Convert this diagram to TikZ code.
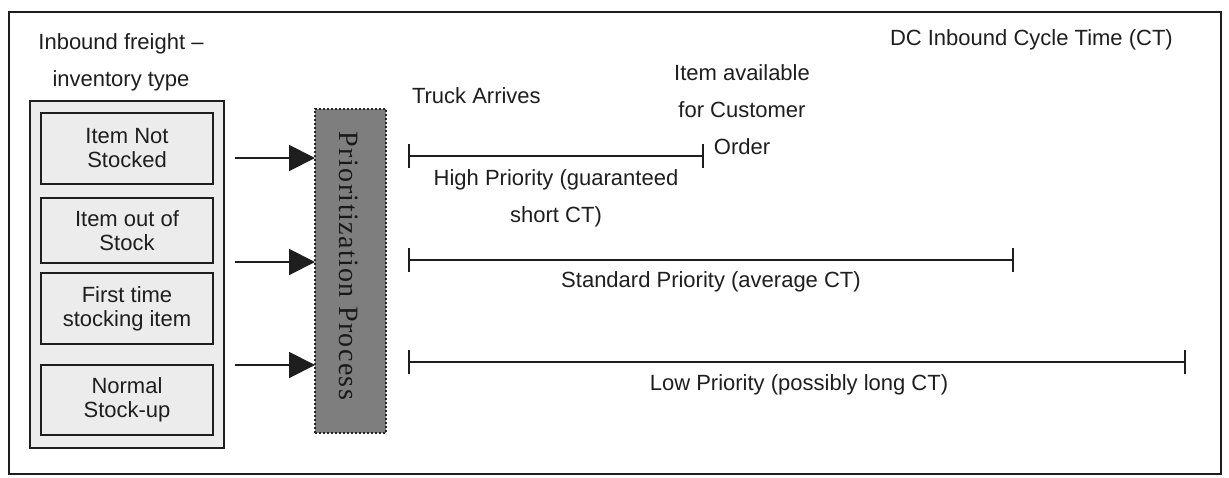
\documentclass[tikz,border=0pt]{standalone}
\usepackage{fontspec}
\setmainfont{Liberation Sans}
\newfontfamily\prfont[LetterSpace=5]{Liberation Serif}
\usetikzlibrary{arrows.meta}
\definecolor{ink}{HTML}{1E1E1E}
\definecolor{pale}{HTML}{ECECEC}
\definecolor{prgray}{HTML}{7E7E7E}
\begin{document}
\begin{tikzpicture}[x=0.5pt,y=-0.5pt,
  every node/.style={inner sep=0pt, outer sep=0pt, text=ink,
    font=\fontsize{11}{12}\selectfont},
  frame/.style={draw=ink, line width=0.8pt, minimum width=606pt, minimum height=231pt},
  holder/.style={draw=ink, fill=pale, line width=0.9pt, minimum width=97pt, minimum height=173.5pt},
  catbox/.style={draw=ink, fill=pale, line width=1pt, minimum width=86pt, align=center},
  prio/.style={draw=black!85, fill=prgray, densely dotted, line width=1pt,
    minimum width=35.5pt, minimum height=162pt},
  feed/.style={draw=ink, line width=1pt, -{Triangle[length=13pt,width=13pt]}},
  span/.style={draw=ink, line width=1pt,
    {Bar[width=12pt,line width=1pt]}-{Bar[width=12pt,line width=1pt]}},
  wide/.style={align=center, font=\fontsize{11}{18.5}\selectfont}
]
\useasboundingbox (0,0) rectangle (1229,477);

% outer frame
\node[frame] (frame) at (615,243) {};

% inventory types
\node[wide] (inb) at (121,62) {Inbound freight –\\inventory type};
\node[holder] (hold) at (127,274.5) {};
\node[catbox, minimum height=35.5pt] (b1) at (127,148.5) {Item Not\\Stocked};
\node[catbox, minimum height=32.5pt] (b2) at (127,230.5) {Item out of\\Stock};
\node[catbox, minimum height=35.5pt] (b3) at (127,308.5) {First time\\stocking item};
\node[catbox, minimum height=35pt]   (b4) at (127,400) {Normal\\Stock-up};

% prioritization step
\node[prio] (pr) at (350.5,271) {};
\node[rotate=-90, text=black!90, font=\prfont\fontsize{14}{15}\selectfont]
  (prtxt) at (349,266) {Prioritization Process};

% feeds into the prioritization step
\coordinate (a1) at (235,158);
\coordinate (a2) at (235,262);
\coordinate (a3) at (235,365);
\draw[feed] (a1) -- (a1 -| pr.west);
\draw[feed] (a2) -- (a2 -| pr.west);
\draw[feed] (a3) -- (a3 -| pr.west);

% cycle time spans
\coordinate (hs) at (408,156);
\coordinate (he) at (704,156);
\coordinate (ss) at (408,260);
\coordinate (se) at (1014,260);
\coordinate (ls) at (408,362);
\coordinate (le) at (1186,362);
\draw[span] (hs) -- (he);
\draw[span] (ss) -- (se);
\draw[span] (ls) -- (le);

% labels
\node[anchor=base west] (dc) at (890,45) {DC Inbound Cycle Time (CT)};
\node[anchor=base west] (truck) at (412,103) {Truck Arrives};
\node[wide] (avail) at (742,110) {Item available\\for Customer\\Order};
\node[wide] (high) at (556,198) {High Priority (guaranteed\\short CT)};
\node[anchor=base] (std) at (711,287) {Standard Priority (average CT)};
\node[anchor=base] (low) at (799,390) {Low Priority (possibly long CT)};
\end{tikzpicture}
\end{document}
